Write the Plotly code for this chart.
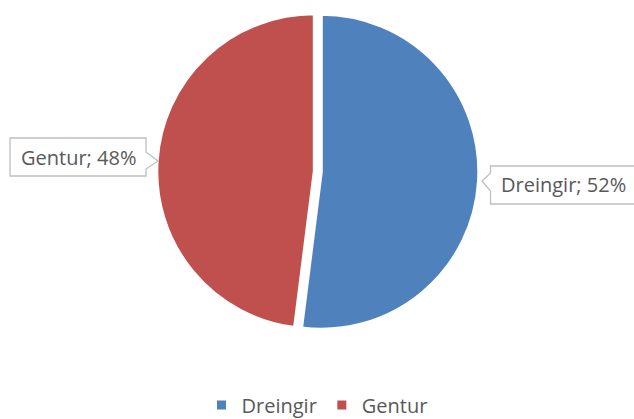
import plotly.graph_objects as go

labels = ["Dreingir", "Gentur"]
values = [52, 48]
colors = ["#4F81BD", "#C0504D"]
label_texts = ["Dreingir; 52%", "Gentur; 48%"]

W, H = 634, 419
FONT = "Open Sans"
TXT = "#595959"
BORDER = "#BFBFBF"

def px(x):
    return x / W

def py(y):
    return 1 - y / H

r = 157.5
pull = 3.5 / 157.5
cx, cy = 317.8, 171.5
half = r * (1 + pull)

fig = go.Figure(go.Pie(
    labels=labels, values=values, sort=False, direction="clockwise", rotation=0,
    marker=dict(colors=colors, line=dict(width=3, color="white")),
    pull=[pull, pull], textinfo="none", hoverinfo="label+percent",
    domain=dict(x=[px(cx - half), px(cx + half)], y=[py(cy + half), py(cy - half)]),
))

def callout(x0, x1, y0, y1, side, ny0, ny1, tipx, tipy):
    if side == "left":
        path = (f"M {px(x0)} {py(y0)} L {px(x1)} {py(y0)} L {px(x1)} {py(y1)} "
                f"L {px(x0)} {py(y1)} L {px(x0)} {py(ny1)} L {px(tipx)} {py(tipy)} "
                f"L {px(x0)} {py(ny0)} Z")
    else:
        path = (f"M {px(x0)} {py(y0)} L {px(x1)} {py(y0)} L {px(x1)} {py(ny0)} "
                f"L {px(tipx)} {py(tipy)} L {px(x1)} {py(ny1)} L {px(x1)} {py(y1)} "
                f"L {px(x0)} {py(y1)} Z")
    return dict(type="path", xref="paper", yref="paper", path=path,
                line=dict(color=BORDER, width=1.3), fillcolor="white")

shapes = [
    callout(490.5, 640, 166, 204, "left", 173, 191, 482, 181),
    callout(10, 146, 138, 176, "right", 152, 169, 158, 161),
]

annotations = [
    dict(text=label_texts[0], x=px(563), y=py(185), xref="paper", yref="paper",
         showarrow=False, xanchor="center", yanchor="middle",
         font=dict(family=FONT, size=20, color=TXT)),
    dict(text=label_texts[1], x=px(78), y=py(157), xref="paper", yref="paper",
         showarrow=False, xanchor="center", yanchor="middle",
         font=dict(family=FONT, size=20, color=TXT)),
]

fig.update_layout(
    width=W, height=H, margin=dict(l=0, r=0, t=0, b=0, autoexpand=False),
    paper_bgcolor="white", plot_bgcolor="white",
    shapes=shapes, annotations=annotations,
    showlegend=True,
    legend=dict(orientation="h", x=0.5, xanchor="center", xref="container",
                y=py(405), yanchor="middle", yref="container",
                font=dict(family=FONT, size=20, color=TXT), itemwidth=30,
                traceorder="normal"),
)

fig.write_html("out.html", config={"displayModeBar": False},
               post_script="document.body.style.margin='0';document.body.style.overflow='hidden';")
